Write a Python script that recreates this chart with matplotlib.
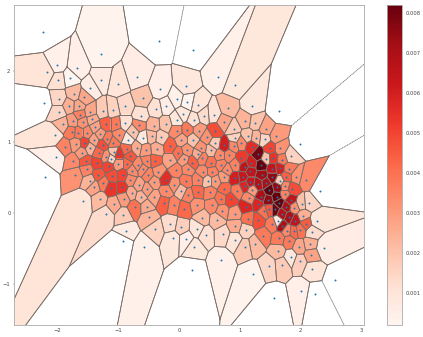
#!/usr/bin/env python3

import numpy as np
import matplotlib
matplotlib.use('Agg')
import matplotlib.pyplot as plt
from matplotlib.cm import ScalarMappable
from matplotlib.colors import Normalize

# sites whose region is unbounded, these get no fill
open_x = [-2.24, -0.33, 0.23, -2.23, -2.21, -0.93, 0.21, 1.57, 2.24, 2.58, 2.32, 1.99, 1.65]
open_y = [2.55, 2.42, 2.29, 1.55, 0.50, -0.40, -0.80, -1.20, -1.15, -0.95, 0.315, 0.97, 1.44]

# sites with a filled region
site_x = [
    -2.01, -2.18, -1.68, -1.29, -1.99, -1.79, -1.46, -1.29, -1.00, -0.69,
    -0.31, 0.11, -1.98, -1.73, -1.56, -1.98, -1.81, -1.65, -1.46, -1.63,
    -1.26, -1.09, -0.89, -0.60, -0.38, -0.21, -0.04, 0.14, 0.31, -0.63,
    -1.92, -1.75, -1.59, -1.38, -1.43, -1.21, -1.04, -0.89, -0.66, -0.42,
    -0.22, -0.04, 0.07, 0.24, -0.04, 0.14, -2.05, -1.77, -1.66, -1.51,
    -1.30, -0.99, -0.75, -1.18, -0.84, -0.60, -0.45, -0.30, -1.88, -1.70,
    -1.55, -1.40, -1.47, -1.26, -1.08, -0.86, -0.70, -0.55, -0.37, -0.14,
    -0.01, 0.04, 0.225, 0.13, -2.02, -1.75, -1.60, -1.54, -1.32, -1.20,
    -1.12, -1.07, -1.00, -1.35, -1.16, -1.00, -0.86, -0.81, -0.67, -0.53,
    -0.40, -0.14, 0.08, 0.22, 0.32, -1.52, -1.71, -1.33, -1.10, -0.93,
    -0.77, -0.60, -0.34, -0.505, -0.05, 0.15, -1.47, -1.25, -1.40, -1.115,
    -0.94, -0.80, -0.66, -0.53, -0.78, -0.63, -0.41, -0.41, -0.22, -0.08,
    0.115, 0.32, -0.21, 0.04, 0.15, 0.31, -1.58, -1.31, -1.07, -0.91,
    -1.21, -0.92, -0.73, -0.53, -0.25, -0.09, 0.09, -0.49, -0.87, -0.58,
    -0.39, -0.14, 0.04, 0.30, -0.10, 0.115, 0.25, 0.65, 0.92, 1.20,
    0.81, 0.41, 0.57, 0.74, 1.09, 1.26, 0.90, 1.43, 0.33, 0.59,
    1.13, 1.60, 0.46, 0.92, 1.27, 1.41, 0.59, 0.75, 0.90, 1.02,
    1.20, 1.50, 1.67, 0.36, 0.53, 0.67, 0.83, 1.03, 1.30, 1.44,
    1.55, 1.70, 1.84, 0.385, 0.53, 0.69, 0.93, 1.08, 1.19, 1.36,
    1.54, 1.66, 1.81, 0.39, 0.55, 0.79, 0.92, 1.17, 1.37, 1.93,
    2.09, 0.74, 0.60, 0.47, 1.06, 1.17, 1.31, 1.54, 1.66, 1.77,
    1.43, 0.51, 0.75, 0.96, 1.09, 1.21, 1.35, 1.49, 1.62, 1.75,
    1.87, 0.69, 0.85, 1.15, 1.47, 1.61, 1.75, 1.84, 2.02, 2.14,
    0.29, 0.55, 1.10, 1.31, 1.40, 1.48, 1.65, 1.58, 1.77, 1.90,
    0.71, 0.92, 1.14, 1.31, 1.54, 1.63, 1.70, 1.82, 1.91, 2.05,
    2.09, 2.27, 0.38, 0.63, 0.93, 0.44, 0.72, 1.10, 0.92, 1.70,
    1.78, 1.89, 2.00, 2.19, 1.39, 1.65, 1.81, 1.98, 2.16, 1.26,
    1.08, 1.64, 1.84, 2.18, 2.39, 0.70, 1.48, 1.70, 1.99, 2.20,
    1.22, 2.01,
]
site_y = [
    2.09, 1.98, 2.04, 2.24, 1.87, 1.90, 1.76, 1.88, 1.81, 1.92,
    1.75, 1.79, 1.61, 1.68, 1.63, 1.42, 1.51, 1.50, 1.42, 1.385,
    1.43, 1.45, 1.50, 1.62, 1.46, 1.50, 1.61, 1.56, 1.52, 1.37,
    1.25, 1.29, 1.28, 1.21, 1.32, 1.25, 1.25, 1.27, 1.235, 1.23,
    1.25, 1.31, 1.39, 1.31, 1.155, 1.17, 1.10, 1.14, 1.13, 1.13,
    1.11, 1.10, 1.14, 1.04, 1.03, 1.06, 1.08, 1.065, 0.93, 0.97,
    0.98, 1.03, 0.92, 0.96, 0.99, 0.90, 0.915, 0.88, 0.90, 0.94,
    0.84, 1.03, 1.03, 0.88, 0.79, 0.73, 0.85, 0.73, 0.84, 0.79,
    0.76, 0.86, 0.83, 0.70, 0.66, 0.695, 0.695, 0.80, 0.67, 0.73,
    0.735, 0.75, 0.755, 0.71, 0.83, 0.615, 0.535, 0.535, 0.52, 0.53,
    0.59, 0.62, 0.58, 0.535, 0.60, 0.62, 0.45, 0.42, 0.37, 0.35,
    0.36, 0.47, 0.39, 0.33, 0.28, 0.23, 0.44, 0.22, 0.47, 0.40,
    0.45, 0.465, 0.31, 0.31, 0.25, 0.30, 0.165, 0.19, 0.12, 0.20,
    -0.02, -0.03, 0.085, 0.09, 0.14, 0.11, 0.06, -0.06, -0.26, -0.48,
    -0.23, -0.16, -0.20, -0.22, -0.36, -0.37, -0.48, 1.92, 1.80, 1.51,
    1.48, 1.37, 1.385, 1.28, 1.30, 1.27, 1.18, 1.18, 1.16, 1.155,
    1.085, 1.08, 1.065, 1.055, 1.06, 1.04, 0.98, 0.95, 0.945, 0.985,
    0.93, 0.91, 0.91, 0.91, 0.88, 0.81, 0.81, 0.77, 0.83, 0.765,
    0.77, 0.75, 0.80, 0.775, 0.71, 0.68, 0.68, 0.65, 0.70, 0.67,
    0.62, 0.63, 0.62, 0.57, 0.58, 0.60, 0.49, 0.59, 0.53, 0.51,
    0.465, 0.51, 0.45, 0.45, 0.51, 0.43, 0.41, 0.51, 0.45, 0.51,
    0.42, 0.29, 0.34, 0.31, 0.38, 0.32, 0.23, 0.32, 0.36, 0.38,
    0.34, 0.20, 0.19, 0.21, 0.18, 0.225, 0.27, 0.18, 0.13, 0.14,
    0.11, 0.11, 0.09, 0.13, 0.02, 0.05, 0.14, 0.05, 0.085, 0.075,
    0.03, -0.01, -0.08, -0.10, -0.16, -0.12, -0.01, -0.06, -0.11, -0.04,
    -0.15, -0.11, -0.07, -0.10, -0.18, -0.305, -0.30, -0.24, -0.375, -0.18,
    -0.25, -0.26, -0.24, -0.27, -0.32, -0.36, -0.40, -0.48, -0.44, -0.44,
    -0.48, -0.535, -0.62, -0.59, -0.49, -0.66, -0.75, -0.73, -0.685, -0.79,
    -0.86, -1.10,
]
# values in units of 1e-3
site_val = [
    0.4, 1.0, 0.5, 0.3, 1.2, 0.2, 0.6, 0.7, 1.0, 0.6,
    0.5, 0.8, 1.5, 2.2, 2.7, 1.5, 2.5, 2.7, 2.7, 3.6,
    1.8, 1.6, 1.4, 2.0, 1.2, 0.6, 0.4, 0.2, 1.0, 1.2,
    2.4, 3.0, 3.2, 2.8, 2.6, 4.4, 3.8, 1.2, 3.4, 2.4,
    2.0, 0.9, 0.9, 1.2, 3.4, 3.8, 1.0, 3.8, 3.8, 3.4,
    3.0, 3.4, 2.0, 3.8, 0.8, 0.8, 2.2, 1.8, 3.6, 3.0,
    5.0, 2.8, 2.4, 4.8, 3.8, 4.2, 2.6, 3.0, 2.6, 4.4,
    4.0, 2.8, 2.0, 3.2, 0.5, 3.4, 3.0, 4.6, 4.2, 3.2,
    1.6, 2.0, 5.4, 5.0, 5.0, 3.0, 4.2, 4.6, 3.4, 3.6,
    4.4, 2.8, 3.0, 4.4, 2.6, 3.6, 3.2, 4.6, 4.8, 5.0,
    3.4, 3.4, 3.2, 3.6, 3.6, 3.4, 2.4, 3.8, 2.8, 5.4,
    5.4, 3.4, 2.8, 3.0, 2.6, 2.4, 3.0, 2.8, 5.6, 3.2,
    3.8, 3.6, 3.4, 2.2, 3.6, 4.2, 1.0, 2.2, 2.6, 3.0,
    1.3, 1.8, 4.0, 2.6, 4.4, 3.6, 4.2, 2.4, 0.7, 0.4,
    1.6, 1.3, 1.7, 1.0, 0.8, 0.5, 0.9, 0.4, 0.9, 0.8,
    2.2, 1.3, 1.1, 2.8, 2.4, 2.0, 1.8, 2.8, 3.0, 4.8,
    2.0, 3.0, 3.2, 1.6, 2.4, 1.5, 1.8, 6.0, 3.4, 3.4,
    5.6, 5.0, 3.2, 3.2, 2.2, 3.4, 3.6, 5.2, 8.0, 2.0,
    5.4, 3.8, 1.6, 3.6, 4.0, 3.6, 3.6, 6.5, 6.0, 8.2,
    6.5, 6.0, 3.8, 3.4, 3.6, 3.4, 6.0, 6.5, 7.2, 3.2,
    3.4, 3.0, 3.0, 2.0, 6.3, 6.3, 6.8, 7.5, 1.8, 4.4,
    7.0, 3.6, 4.2, 3.8, 5.8, 3.0, 7.0, 8.2, 7.5, 3.4,
    4.8, 4.0, 5.0, 3.4, 7.5, 8.2, 3.6, 6.5, 2.0, 1.5,
    3.2, 3.4, 5.8, 5.8, 4.0, 4.6, 8.2, 8.0, 7.0, 3.2,
    3.2, 3.0, 4.0, 4.8, 3.8, 0.8, 6.8, 7.0, 6.5, 2.5,
    4.5, 0.9, 2.2, 2.2, 2.6, 1.2, 1.4, 1.6, 1.0, 7.0,
    3.4, 4.2, 4.0, 1.3, 3.8, 3.8, 3.8, 2.7, 2.5, 2.2,
    1.8, 2.2, 0.8, 2.8, 0.6, 0.4, 1.5, 1.8, 1.7, 1.0,
    0.3, 0.5,
]
cbar_ticks = [0.001, 0.002, 0.003, 0.004, 0.005, 0.006, 0.007, 0.008]

BOX = 1000.0

def clip_cell(points, i):
    """ Voronoi cell of point i: a big square cut by the bisector
    against every other point.
    """
    poly = np.array([[-BOX, -BOX], [BOX, -BOX], [BOX, BOX], [-BOX, BOX]])
    p = points[i]
    others = np.delete(points, i, axis=0)
    for q in others[np.argsort(((others - p) ** 2).sum(axis=1))]:
        normal = q - p
        off = normal @ ((p + q) / 2)
        side = poly @ normal - off
        if (side <= 0).all():
            continue
        new = []
        for k in range(len(poly)):
            a, b = poly[k], poly[(k + 1) % len(poly)]
            sa, sb = side[k], side[(k + 1) % len(poly)]
            if sa <= 0:
                new.append(a)
            if sa * sb < 0:
                new.append(a + (b - a) * sa / (sa - sb))
        poly = np.array(new)
    return poly

def is_far(v):
    return abs(v[0]) > BOX - 1 or abs(v[1]) > BOX - 1

vals = np.array(site_val) * 1e-3
points = np.array(list(zip(site_x, site_y)) + list(zip(open_x, open_y)))
norm = Normalize(vmin=0.0002, vmax=0.0082)
cmap = plt.get_cmap('Reds')

fig = plt.figure(figsize=(4.23, 3.37), dpi=100)
ax = fig.add_axes([14 / 423, 1 - 325 / 337, 350 / 423, 320 / 337])

for i in range(len(points)):
    poly = clip_cell(points, i)
    far = [is_far(v) for v in poly]
    if i < len(vals) and not any(far):
        ax.fill(poly[:, 0], poly[:, 1], color=cmap(norm(vals[i])), lw=0, zorder=1)
    for k in range(len(poly)):
        j = (k + 1) % len(poly)
        if far[k] and far[j]:
            continue
        seg = poly[[k, j]]
        if far[k] or far[j]:
            ax.plot(seg[:, 0], seg[:, 1], color='#888888', lw=0.45, ls=(0, (2, 1)), zorder=2)
        else:
            ax.plot(seg[:, 0], seg[:, 1], color='#7a6c67', lw=0.55, zorder=2)

ax.scatter(points[:, 0], points[:, 1], s=2, color='tab:blue', lw=0, zorder=3)

ax.set_xlim(-2.72, 3.05)
ax.set_ylim(-1.58, 2.93)
ax.set_xticks([-2, -1, 0, 1, 2, 3])
ax.set_yticks([-1, 0, 1, 2])
ax.tick_params(labelsize=3.8, length=1, width=0.3, pad=1.5, colors='#444444')
for spine in ax.spines.values():
    spine.set_linewidth(0.6)
    spine.set_color('#aaaaaa')

cax = fig.add_axes([386.5 / 423, 1 - 325 / 337, 15.5 / 423, 320 / 337])
cb = fig.colorbar(ScalarMappable(norm=norm, cmap=cmap), cax=cax, ticks=cbar_ticks)
cb.ax.set_yticklabels(['%.3f' % t for t in cbar_ticks])
cb.ax.tick_params(labelsize=3.8, length=1, width=0.3, pad=1.5, colors='#444444')
cb.outline.set_linewidth(0.6)
cb.outline.set_edgecolor('#aaaaaa')

fig.savefig('out.png', dpi=100)
